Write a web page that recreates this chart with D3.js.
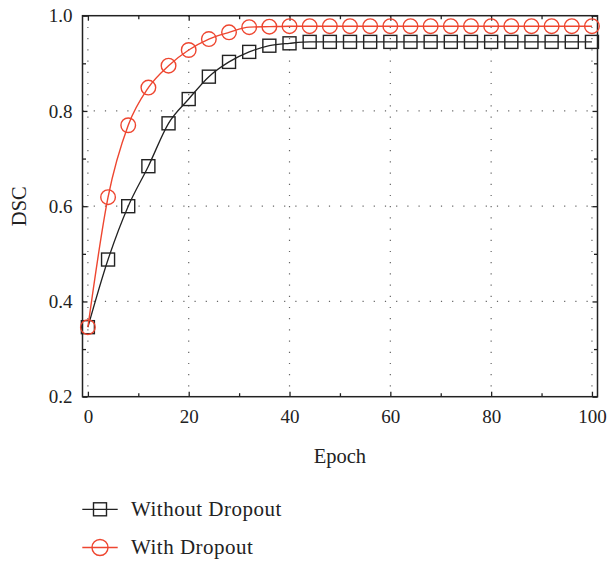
<!DOCTYPE html>
<html>
<head>
<meta charset="utf-8">
<script src="https://cdn.jsdelivr.net/npm/d3@7"></script>
<style>
  html, body { margin: 0; padding: 0; background: #fff; }
  svg text { font-family: "Liberation Serif", "DejaVu Serif", serif; fill: #222; }
</style>
</head>
<body>
<svg id="chart" width="608" height="561"></svg>
<script>
// Training epochs (sampled every 4 epochs)
const epochs = [0,4,8,12,16,20,24,28,32,36,40,44,48,52,56,60,64,68,72,76,80,84,88,92,96,100];

// Dice similarity coefficient per epoch
const withoutDropout = [0.346,0.488,0.600,0.684,0.774,0.825,0.872,0.903,0.924,0.937,0.942,0.945,0.945,0.945,0.945,0.945,0.945,0.945,0.945,0.945,0.945,0.945,0.945,0.945,0.945,0.945];
const withDropout    = [0.346,0.619,0.770,0.849,0.895,0.928,0.951,0.965,0.976,0.977,0.978,0.978,0.978,0.978,0.978,0.978,0.978,0.978,0.978,0.978,0.978,0.978,0.978,0.978,0.978,0.978];

const seriesNames = ["Without Dropout", "With Dropout"];
const xTicks = [0,20,40,60,80,100];
const xMinor = [10,30,50,70,90];
const yTicks = [0.2,0.4,0.6,0.8,1.0];
const yMinor = [0.3,0.5,0.7,0.9];

const svg = d3.select("#chart");
const m = { left: 82.5, top: 15.7, right: 597.5, bottom: 396.7 };

const x = d3.scaleLinear().domain([-1.07, 101.1]).range([m.left, m.right]);
const y = d3.scaleLinear().domain([0.2, 1.0]).range([m.bottom, m.top]);

const black = "#222";
const red = "#ee4630";

// dotted grid
const grid = svg.append("g");
grid.selectAll("line.gx").data(xTicks).join("line")
  .attr("x1", d => x(d)).attr("x2", d => x(d))
  .attr("y1", m.top).attr("y2", m.bottom)
  .attr("stroke", "#666").attr("stroke-width", 1.2)
  .attr("stroke-dasharray", "1.2,10");
grid.selectAll("line.gy").data(yTicks.filter(d => d > 0.2 && d < 1)).join("line")
  .attr("x1", m.left).attr("x2", m.right)
  .attr("y1", d => y(d)).attr("y2", d => y(d))
  .attr("stroke", "#666").attr("stroke-width", 1.2)
  .attr("stroke-dasharray", "1.2,10");

// frame with inward ticks on all four sides
const tickLen = 5, minorLen = 3.5;
const bottomAxis = d3.axisBottom(x).tickValues(xTicks).tickSize(-tickLen).tickPadding(13).tickFormat(d3.format("d"));
const leftAxis = d3.axisLeft(y).tickValues(yTicks).tickSize(-tickLen).tickPadding(10).tickFormat(d3.format(".1f"));

const gx = svg.append("g").attr("transform", `translate(0,${m.bottom})`).call(bottomAxis);
const gy = svg.append("g").attr("transform", `translate(${m.left},0)`).call(leftAxis);
[gx, gy].forEach(g => {
  g.select(".domain").remove();
  g.selectAll(".tick line").attr("stroke", black).attr("stroke-width", 1.3);
  g.selectAll(".tick text").style("font-size", "19px").attr("fill", "#222");
});

const gxMinor = svg.append("g").attr("transform", `translate(0,${m.bottom})`)
  .call(d3.axisBottom(x).tickValues(xMinor).tickSize(-minorLen).tickFormat(""));
const gyMinor = svg.append("g").attr("transform", `translate(${m.left},0)`)
  .call(d3.axisLeft(y).tickValues(yMinor).tickSize(-minorLen).tickFormat(""));
const gTop = svg.append("g").attr("transform", `translate(0,${m.top})`)
  .call(d3.axisTop(x).tickValues(xTicks).tickSize(-tickLen).tickFormat(""));
const gTopMinor = svg.append("g").attr("transform", `translate(0,${m.top})`)
  .call(d3.axisTop(x).tickValues(xMinor).tickSize(-minorLen).tickFormat(""));
const gRight = svg.append("g").attr("transform", `translate(${m.right},0)`)
  .call(d3.axisRight(y).tickValues(yTicks).tickSize(-tickLen).tickFormat(""));
const gRightMinor = svg.append("g").attr("transform", `translate(${m.right},0)`)
  .call(d3.axisRight(y).tickValues(yMinor).tickSize(-minorLen).tickFormat(""));
[gxMinor, gyMinor, gTop, gTopMinor, gRight, gRightMinor].forEach(g => {
  g.select(".domain").remove();
  g.selectAll(".tick line").attr("stroke", black).attr("stroke-width", 1.3);
});

svg.append("rect")
  .attr("x", m.left).attr("y", m.top)
  .attr("width", m.right - m.left).attr("height", m.bottom - m.top)
  .attr("fill", "none").attr("stroke", black).attr("stroke-width", 1.5);

// axis titles
svg.append("text").attr("x", x(50)).attr("y", 463)
  .attr("text-anchor", "middle").style("font-size", "20.5px").text("Epoch");
svg.append("text").attr("transform", `translate(26,${(m.top + m.bottom) / 2}) rotate(-90)`)
  .attr("text-anchor", "middle").style("font-size", "20.5px").text("DSC");

// series
const line = d3.line().x(d => x(d[0])).y(d => y(d[1])).curve(d3.curveMonotoneX);
const blackPts = epochs.map((e, i) => [e, withoutDropout[i]]);
const redPts = epochs.map((e, i) => [e, withDropout[i]]);

svg.append("path").datum(blackPts).attr("d", line)
  .attr("fill", "none").attr("stroke", black).attr("stroke-width", 1.3);
svg.append("g").selectAll("rect").data(blackPts).join("rect")
  .attr("x", d => x(d[0]) - 6.5).attr("y", d => y(d[1]) - 6.5)
  .attr("width", 13).attr("height", 13)
  .attr("fill", "none").attr("stroke", black).attr("stroke-width", 1.4);

svg.append("path").datum(redPts).attr("d", line)
  .attr("fill", "none").attr("stroke", red).attr("stroke-width", 1.4);
svg.append("g").selectAll("circle").data(redPts).join("circle")
  .attr("cx", d => x(d[0])).attr("cy", d => y(d[1])).attr("r", 7.3)
  .attr("fill", "none").attr("stroke", red).attr("stroke-width", 1.4);

// legend
const legend = svg.append("g");
const rows = [
  { name: seriesNames[0], color: black, shape: "square", cy: 509.3 },
  { name: seriesNames[1], color: red, shape: "circle", cy: 547.5 }
];
rows.forEach(r => {
  legend.append("line").attr("x1", 82.3).attr("x2", 117.7)
    .attr("y1", r.cy).attr("y2", r.cy)
    .attr("stroke", r.color).attr("stroke-width", 1.3);
  if (r.shape === "square") {
    legend.append("rect").attr("x", 100 - 6.5).attr("y", r.cy - 6.5)
      .attr("width", 13).attr("height", 13)
      .attr("fill", "none").attr("stroke", r.color).attr("stroke-width", 1.4);
  } else {
    legend.append("circle").attr("cx", 100).attr("cy", r.cy).attr("r", 8)
      .attr("fill", "none").attr("stroke", r.color).attr("stroke-width", 1.4);
  }
  legend.append("text").attr("x", 131).attr("y", r.cy + 6.5)
    .style("font-size", "21px").style("letter-spacing", "0.5px").text(r.name);
});
</script>
</body>
</html>
